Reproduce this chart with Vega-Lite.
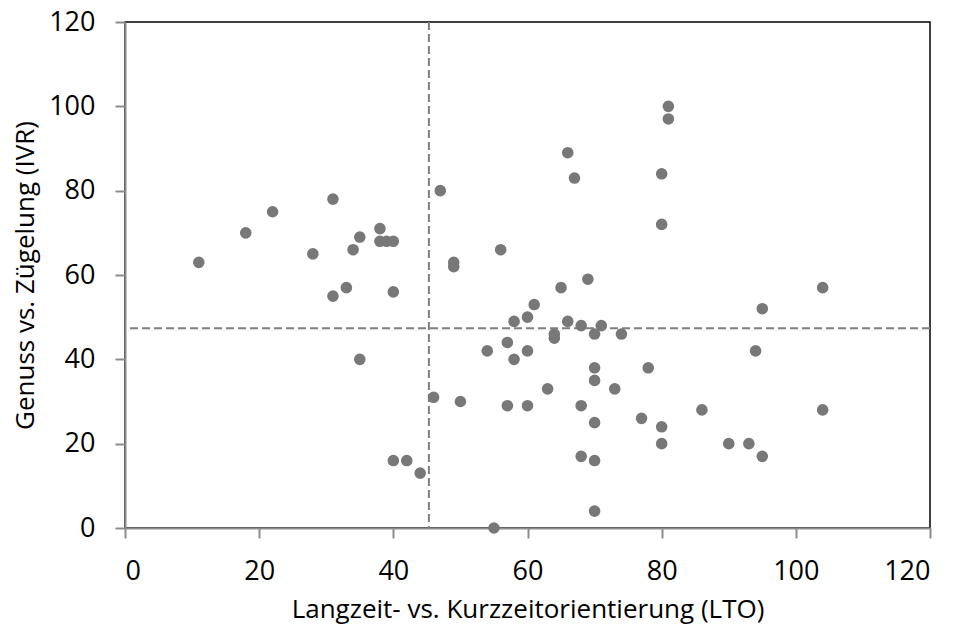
{
  "$schema": "https://vega.github.io/schema/vega-lite/v6.json",
  "autosize": "none",
  "padding": {"left": 125, "top": 22, "right": 27, "bottom": 101},
  "width": 805,
  "height": 506,
  "background": "white",
  "config": {
    "view": {"stroke": "#000000", "strokeWidth": 1.5},
    "font": "Open Sans",
    "axis": {
      "domainColor": "#8c8c8c",
      "domainWidth": 2,
      "tickColor": "#8c8c8c",
      "tickWidth": 2,
      "tickSize": 10,
      "grid": false,
      "labelFont": "Open Sans",
      "labelFontSize": 27,
      "labelColor": "#000000",
      "titleFont": "Open Sans",
      "titleFontSize": 26,
      "titleFontWeight": "normal",
      "titleColor": "#000000"
    }
  },
  "datasets": {
    "points": [
      {"lto": 11, "ivr": 63}, {"lto": 18, "ivr": 70}, {"lto": 22, "ivr": 75}, {"lto": 28, "ivr": 65},
      {"lto": 31, "ivr": 78}, {"lto": 31, "ivr": 55}, {"lto": 33, "ivr": 57}, {"lto": 34, "ivr": 66},
      {"lto": 35, "ivr": 69}, {"lto": 35, "ivr": 40}, {"lto": 38, "ivr": 71}, {"lto": 38, "ivr": 68},
      {"lto": 39, "ivr": 68}, {"lto": 40, "ivr": 68}, {"lto": 40, "ivr": 56}, {"lto": 40, "ivr": 16},
      {"lto": 42, "ivr": 16}, {"lto": 44, "ivr": 13}, {"lto": 46, "ivr": 31}, {"lto": 47, "ivr": 80},
      {"lto": 49, "ivr": 63}, {"lto": 49, "ivr": 62}, {"lto": 50, "ivr": 30},
      {"lto": 54, "ivr": 42}, {"lto": 55, "ivr": 0}, {"lto": 56, "ivr": 66}, {"lto": 57, "ivr": 44},
      {"lto": 57, "ivr": 29}, {"lto": 58, "ivr": 49}, {"lto": 58, "ivr": 40}, {"lto": 60, "ivr": 50},
      {"lto": 60, "ivr": 42}, {"lto": 60, "ivr": 29}, {"lto": 61, "ivr": 53}, {"lto": 63, "ivr": 33},
      {"lto": 64, "ivr": 46}, {"lto": 64, "ivr": 45}, {"lto": 65, "ivr": 57}, {"lto": 66, "ivr": 89},
      {"lto": 66, "ivr": 49}, {"lto": 67, "ivr": 83}, {"lto": 68, "ivr": 48}, {"lto": 68, "ivr": 29},
      {"lto": 68, "ivr": 17}, {"lto": 69, "ivr": 59}, {"lto": 70, "ivr": 46}, {"lto": 70, "ivr": 38},
      {"lto": 70, "ivr": 35}, {"lto": 70, "ivr": 25}, {"lto": 70, "ivr": 16}, {"lto": 70, "ivr": 4},
      {"lto": 71, "ivr": 48}, {"lto": 73, "ivr": 33}, {"lto": 74, "ivr": 46}, {"lto": 77, "ivr": 26},
      {"lto": 78, "ivr": 38}, {"lto": 80, "ivr": 84}, {"lto": 80, "ivr": 72}, {"lto": 80, "ivr": 24},
      {"lto": 80, "ivr": 20}, {"lto": 81, "ivr": 100}, {"lto": 81, "ivr": 97}, {"lto": 86, "ivr": 28},
      {"lto": 90, "ivr": 20}, {"lto": 93, "ivr": 20}, {"lto": 94, "ivr": 42}, {"lto": 95, "ivr": 52},
      {"lto": 95, "ivr": 17}, {"lto": 104, "ivr": 57}, {"lto": 104, "ivr": 28}
    ],
    "vline": [{"lto": 45.3}],
    "hline": [{"ivr": 47.4}]
  },
  "layer": [
    {
      "data": {"name": "vline"},
      "mark": {"type": "rule", "color": "#808080", "strokeWidth": 2, "strokeDash": [8, 4]},
      "encoding": {
        "x": {"field": "lto", "type": "quantitative", "scale": {"domain": [0, 120], "nice": false}}
      }
    },
    {
      "data": {"name": "hline"},
      "mark": {"type": "rule", "color": "#808080", "strokeWidth": 2, "strokeDash": [8, 4]},
      "encoding": {
        "y": {"field": "ivr", "type": "quantitative", "scale": {"domain": [0, 120], "nice": false}}
      }
    },
    {
      "data": {"name": "points"},
      "mark": {"type": "circle", "size": 135, "color": "#787878", "opacity": 1},
      "encoding": {
        "x": {
          "field": "lto", "type": "quantitative",
          "scale": {"domain": [0, 120], "nice": false},
          "axis": {"values": [0, 20, 40, 60, 80, 100, 120], "title": "Langzeit- vs. Kurzzeitorientierung (LTO)", "labelPadding": 20, "titlePadding": 12}
        },
        "y": {
          "field": "ivr", "type": "quantitative",
          "scale": {"domain": [0, 120], "nice": false},
          "axis": {"values": [0, 20, 40, 60, 80, 100, 120], "title": "Genuss vs. Zügelung (IVR)", "labelPadding": 20, "titlePadding": 10}
        }
      }
    }
  ]
}
